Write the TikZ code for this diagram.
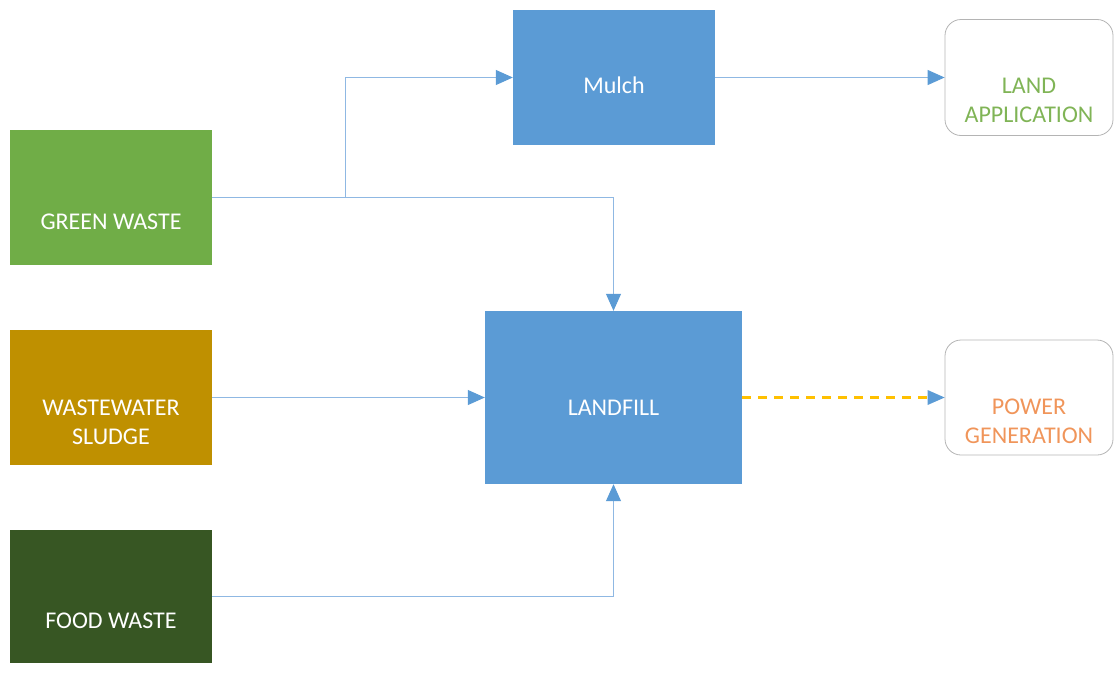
\documentclass[tikz,border=0pt]{standalone}
\usepackage{fontspec}
\setmainfont{Carlito}
\usetikzlibrary{arrows.meta}
\definecolor{gw}{HTML}{70AD47}
\definecolor{ws}{HTML}{BF9000}
\definecolor{fw}{HTML}{375623}
\definecolor{bl}{HTML}{5B9BD5}
\definecolor{ln}{HTML}{8FB8E3}
\definecolor{lt}{HTML}{80B456}
\definecolor{ot}{HTML}{F0955A}
\definecolor{dsh}{HTML}{FFC000}
\definecolor{bord}{HTML}{B4B4B4}
\tikzset{
  box/.style={draw=none, minimum width=#1, inner sep=0pt},
  boxtext/.style={text=white, font=\fontsize{24}{29}\selectfont, align=center},
  outbox/.style={draw=bord, rounded corners=16pt, line width=0.8pt, minimum width=168pt, inner sep=0pt},
  conn/.style={draw=ln, line width=1pt, -{Triangle[length=17pt,width=15pt,color=bl]}},
  plain/.style={draw=ln, line width=1pt},
  dashconn/.style={draw=dsh, line width=2.6pt, dash pattern=on 9pt off 7pt, -{Triangle[length=17pt,width=15pt,color=bl,line width=0pt]}},
}
\begin{document}
\begin{tikzpicture}[x=1pt,y=-1pt]
\useasboundingbox (0,0) rectangle (1115,675);
\node[box=202pt, minimum height=135pt, fill=gw, label={[boxtext, yshift=-24.5pt]center:GREEN WASTE}] (green) at (111,197.5) {};
\node[box=202pt, minimum height=135pt, fill=ws, label={[boxtext, yshift=-25pt]center:WASTEWATER\\SLUDGE}] (sludge) at (111,397.5) {};
\node[box=202pt, minimum height=133pt, fill=fw, label={[boxtext, yshift=-24.5pt]center:FOOD WASTE}] (food) at (111,596.5) {};
\node[box=202pt, minimum height=135pt, fill=bl, label={[boxtext, yshift=-8pt]center:Mulch}] (mulch) at (614,77.5) {};
\node[box=257pt, minimum height=173pt, fill=bl, label={[boxtext, yshift=-10pt]center:LANDFILL}] (landfill) at (613.5,397.5) {};
\node[outbox, minimum height=116pt, label={[boxtext, text=lt, yshift=-23pt]center:LAND\\APPLICATION}] (landapp) at (1029,77.5) {};
\node[outbox, minimum height=115pt, label={[boxtext, text=ot, yshift=-24pt]center:POWER\\GENERATION}] (power) at (1029,397.5) {};
\coordinate (split) at (345,197);
\draw[plain] (green.east |- split) -- (split);
\draw[conn] (split) |- (mulch.west);
\draw[conn] (split) -| (landfill.north);
\draw[conn] (sludge.east) -- (landfill.west);
\draw[conn] (food.east) -| (landfill.south);
\draw[conn] (mulch.east) -- (landapp.west);
\draw[dashconn] (landfill.east) -- (power.west);
\end{tikzpicture}
\end{document}
